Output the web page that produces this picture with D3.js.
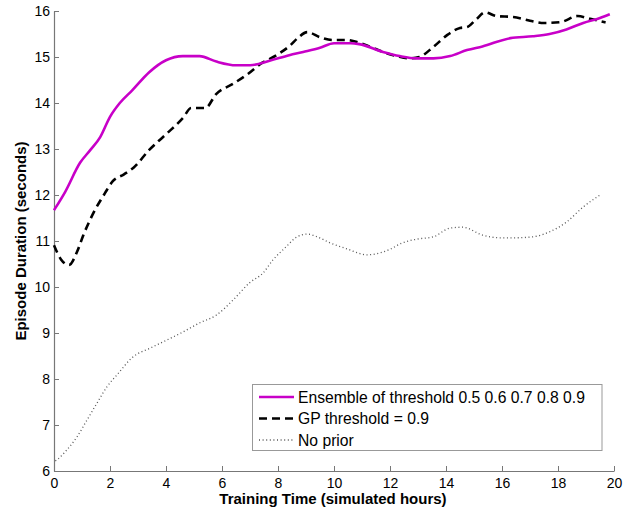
<!DOCTYPE html>
<html>
<head>
<meta charset="utf-8">
<script src="https://cdn.jsdelivr.net/npm/d3@7"></script>
<style>
  body { margin: 0; background: #fff; }
  svg { display: block; font-family: "Liberation Sans", Arial, sans-serif; }
</style>
</head>
<body>
<svg id="chart" width="628" height="510"></svg>
<script>
// ---- data ----
const ensembleX = [0, 0.4, 0.93, 1.3, 1.65, 2.0, 2.35, 2.8, 3.4, 4.0, 4.6, 5.2, 5.8, 6.5, 7.0, 7.7, 8.4, 8.9, 9.5, 10.0, 10.6, 10.9, 11.75, 12.35, 12.95, 13.55, 14.15, 14.75, 15.3, 16.3, 17.1, 17.7, 18.3, 18.9, 19.5, 19.85];
const ensembleY = [11.67, 12.07, 12.7, 12.98, 13.26, 13.7, 14.0, 14.28, 14.67, 14.93, 15.02, 15.02, 14.9, 14.82, 14.82, 14.92, 15.04, 15.11, 15.2, 15.3, 15.3, 15.28, 15.11, 15.02, 14.97, 14.97, 15.02, 15.15, 15.23, 15.41, 15.45, 15.5, 15.6, 15.74, 15.85, 15.93];

const gpX = [0, 0.25, 0.54, 0.82, 1.05, 1.4, 1.82, 2.1, 2.5, 2.85, 3.4, 4.0, 4.6, 4.9, 5.4, 5.8, 6.4, 6.9, 7.4, 7.95, 8.45, 8.7, 9.05, 9.5, 9.95, 10.45, 10.8, 11.3, 11.75, 12.25, 12.7, 13.05, 13.55, 14.05, 14.5, 14.75, 15.05, 15.4, 15.8, 16.4, 17.0, 17.5, 18.1, 18.7, 19.15, 19.7];
const gpY = [10.91, 10.6, 10.48, 10.76, 11.13, 11.6, 12.04, 12.3, 12.45, 12.6, 12.98, 13.32, 13.67, 13.89, 13.89, 14.2, 14.42, 14.62, 14.86, 15.04, 15.26, 15.41, 15.54, 15.43, 15.37, 15.37, 15.33, 15.22, 15.11, 15.02, 14.97, 15.0, 15.22, 15.48, 15.63, 15.65, 15.8, 15.97, 15.89, 15.87, 15.79, 15.74, 15.76, 15.89, 15.83, 15.75];

const noPriorX = [0.05, 0.14, 0.46, 0.82, 1.18, 1.54, 1.89, 2.25, 2.82, 3.43, 4.04, 4.6, 5.2, 5.8, 6.4, 7.0, 7.46, 7.82, 8.25, 8.68, 9.04, 9.4, 9.86, 10.46, 11.18, 11.5, 12.0, 12.4, 12.96, 13.55, 14.14, 14.6, 15.3, 15.9, 16.5, 17.1, 17.7, 18.3, 18.9, 19.5];
const noPriorY = [6.22, 6.26, 6.46, 6.74, 7.11, 7.48, 7.83, 8.09, 8.48, 8.67, 8.85, 9.02, 9.22, 9.39, 9.72, 10.1, 10.3, 10.59, 10.85, 11.09, 11.15, 11.09, 10.96, 10.83, 10.7, 10.72, 10.82, 10.95, 11.04, 11.09, 11.28, 11.3, 11.13, 11.07, 11.07, 11.09, 11.2, 11.41, 11.74, 12.0];

const xTicks = [0, 2, 4, 6, 8, 10, 12, 14, 16, 18, 20];
const yTicks = [6, 7, 8, 9, 10, 11, 12, 13, 14, 15, 16];
const seriesNames = ["Ensemble of threshold 0.5 0.6 0.7 0.8 0.9", "GP threshold = 0.9", "No prior"];
const xLabel = "Training Time (simulated hours)";
const yLabel = "Episode Duration (seconds)";

// ---- layout ----
const svg = d3.select("#chart");
const plotLeft = 54, plotRight = 614, plotTop = 11, plotBottom = 471;
const x = d3.scaleLinear().domain([0, 20]).range([plotLeft, plotRight]);
const y = d3.scaleLinear().domain([6, 16]).range([plotBottom, plotTop]);
const axisColor = "#777";

// axes
const gx = svg.append("g").attr("transform", `translate(0,${plotBottom})`)
  .call(d3.axisBottom(x).tickValues(xTicks).tickSizeInner(-5).tickSizeOuter(0).tickPadding(7));
const gy = svg.append("g").attr("transform", `translate(${plotLeft},0)`)
  .call(d3.axisLeft(y).tickValues(yTicks).tickSizeInner(-5).tickSizeOuter(0).tickPadding(4));
[gx, gy].forEach(g => {
  g.select(".domain").attr("stroke", axisColor).attr("stroke-width", 1.2);
  g.selectAll(".tick line").attr("stroke", axisColor);
  g.selectAll(".tick text").attr("fill", "#000").style("font-size", "14px").style("font-family", "'Liberation Sans', Arial, sans-serif");
});

// axis labels
svg.append("text").attr("x", (plotLeft + plotRight) / 2 - 1).attr("y", 504)
  .attr("text-anchor", "middle").style("font-weight", "bold").style("font-size", "15px").text(xLabel);
svg.append("text").attr("transform", `translate(26,${(plotTop + plotBottom) / 2}) rotate(-90)`)
  .attr("text-anchor", "middle").style("font-weight", "bold").style("font-size", "15px").text(yLabel);

// lines
const line = d3.line().x(d => x(d[0])).y(d => y(d[1])).curve(d3.curveMonotoneX);
const styles = [
  { stroke: "#c800c8", width: 2.6, dash: null },
  { stroke: "#000", width: 2.6, dash: "8,5" },
  { stroke: "#555", width: 1.3, dash: "1,2.6" }
];
const series = [
  d3.zip(ensembleX, ensembleY),
  d3.zip(gpX, gpY),
  d3.zip(noPriorX, noPriorY)
];
[2, 1, 0].forEach(i => {
  svg.append("path").datum(series[i]).attr("d", line)
    .attr("fill", "none").attr("stroke", styles[i].stroke)
    .attr("stroke-width", styles[i].width)
    .attr("stroke-dasharray", styles[i].dash);
});

// legend
const lg = svg.append("g");
lg.append("rect").attr("x", 252.5).attr("y", 384.5).attr("width", 349.5).attr("height", 66)
  .attr("fill", "#fff").attr("stroke", "#999").attr("stroke-width", 1);
seriesNames.forEach((name, i) => {
  const cy = 397 + i * 21.5;
  lg.append("line").attr("x1", 259).attr("x2", 294).attr("y1", cy).attr("y2", cy)
    .attr("stroke", styles[i].stroke).attr("stroke-width", styles[i].width)
    .attr("stroke-dasharray", styles[i].dash);
  lg.append("text").attr("x", 298).attr("y", cy + 5.5).style("font-size", "15.7px").text(name);
});
</script>
</body>
</html>
